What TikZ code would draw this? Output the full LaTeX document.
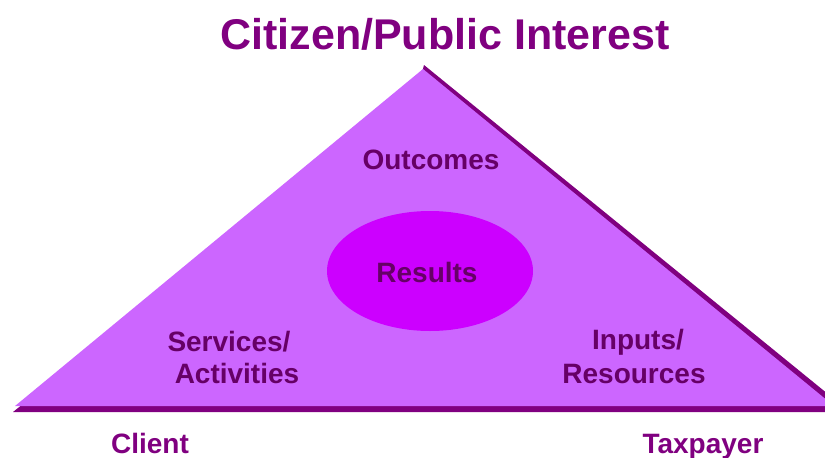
\documentclass[tikz,border=0pt]{standalone}
\usepackage{fontspec}
\setmainfont{Liberation Sans}
\usetikzlibrary{shapes.geometric}
\definecolor{triFill}{HTML}{CC66FF}
\definecolor{triEdge}{HTML}{800080}
\definecolor{coreFill}{HTML}{CC00FF}
\definecolor{innerText}{HTML}{660066}
\definecolor{outerText}{HTML}{800080}
\begin{document}
\begin{tikzpicture}[x=1pt,y=-1pt,
  outerlabel/.style={font=\bfseries\fontsize{28}{32}\selectfont, text=outerText, anchor=base, inner sep=0pt},
  innerlabel/.style={font=\bfseries\fontsize{28}{32}\selectfont, text=innerText, anchor=base, inner sep=0pt},
  titlelabel/.style={font=\bfseries\fontsize{43}{48}\selectfont, text=outerText, anchor=base, inner sep=0pt}]
  \useasboundingbox (0,0) rectangle (825,458);
  \begin{scope}
    \clip (0,0) rectangle (825,458);
    % darker rim along the right side and the base
    \fill[triEdge] (13,412) -- (200,262) -- (420,80) -- (424,65) -- (850,412) -- cycle;
    % main triangle
    \fill[triFill] (15,406) -- (423,69) -- (834,406) -- cycle;
  \end{scope}
  % central ellipse
  \node[ellipse, fill=coreFill, minimum width=206pt, minimum height=120pt, inner sep=0pt] (core) at (430,271) {};
  \node[innerlabel] (results) at (427,282) {Results};
  \node[innerlabel] (outcomes) at (431,169) {Outcomes};
  \node[innerlabel] (services) at (229,351) {Services/};
  \node[innerlabel] (activities) at (237,383) {Activities};
  \node[innerlabel] (inputs) at (638,349) {Inputs/};
  \node[innerlabel] (resources) at (634,383) {Resources};
  \node[titlelabel] (title) at (445,49) {Citizen/Public Interest};
  \node[outerlabel] (client) at (150,453) {Client};
  \node[outerlabel] (taxpayer) at (703,453) {Taxpayer};
\end{tikzpicture}
\end{document}
